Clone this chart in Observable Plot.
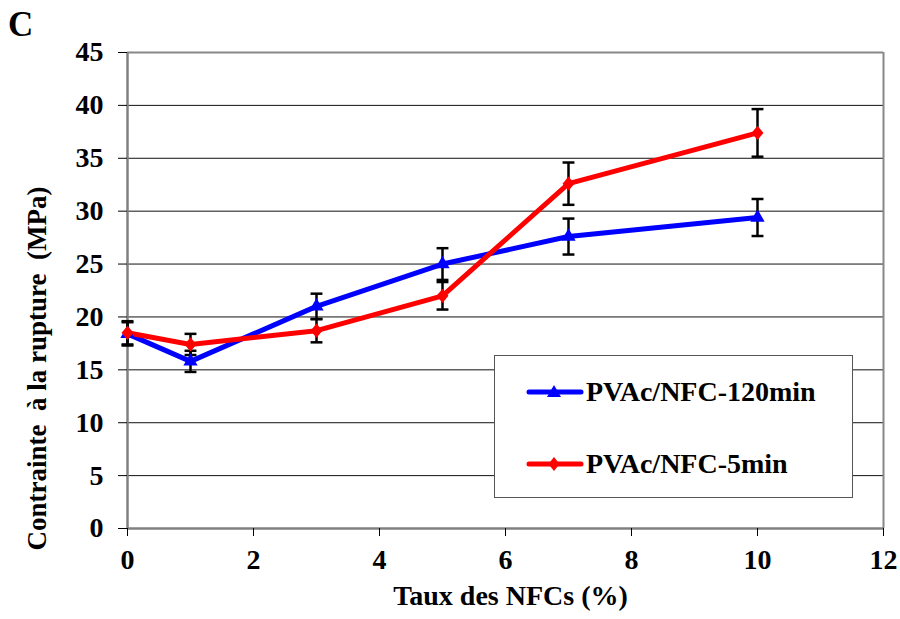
<!DOCTYPE html>
<html>
<head>
<meta charset="utf-8">
<script src="https://cdn.jsdelivr.net/npm/d3@7"></script>
<script src="https://cdn.jsdelivr.net/npm/@observablehq/plot@0.6"></script>
<style>
  html, body { margin: 0; padding: 0; background: #fff; }
  #wrap { position: relative; width: 900px; height: 619px; font-family: "Liberation Serif", "Times New Roman", serif; font-weight: bold; }
  #panel { position: absolute; left: 8px; top: 7px; font-size: 35px; line-height: 1; font-weight: bold; }
  #legend { position: absolute; left: 494px; top: 355px; width: 357px; height: 141px; border: 1.5px solid #555; background: #fff; }
  #legend svg { position: absolute; left: 0; top: 0; }
</style>
</head>
<body>
<div id="wrap">
  <div id="chart"></div>
  <div id="panel">C</div>
  <div id="legend"></div>
</div>
<script>
const xValues = [0, 1, 3, 5, 7, 10];
const y120 = [18.4, 15.8, 21.0, 25.0, 27.6, 29.4];
const err120 = [1.1, 1.0, 1.2, 1.5, 1.7, 1.75];
const y5 = [18.5, 17.4, 18.7, 22.0, 32.6, 37.4];
const err5 = [1.1, 1.0, 1.1, 1.3, 2.0, 2.25];
const seriesNames = ["PVAc/NFC-120min", "PVAc/NFC-5min"];
const seriesColors = ["#0000ff", "#ff0000"];
const xTicks = [0, 2, 4, 6, 8, 10, 12];
const yTicks = [0, 5, 10, 15, 20, 25, 30, 35, 40, 45];
const xLabel = "Taux des NFCs (%)";
const yLabel = "Contrainte\u00a0 à la rupture\u00a0 (MPa)";

const data = [];
xValues.forEach((x, i) => {
  data.push({series: seriesNames[0], x, y: y120[i], e: err120[i]});
});
xValues.forEach((x, i) => {
  data.push({series: seriesNames[1], x, y: y5[i], e: err5[i]});
});
const d120 = data.filter(d => d.series === seriesNames[0]);
const d5 = data.filter(d => d.series === seriesNames[1]);

const capSymbol = {
  draw(ctx, size) {
    const w = Math.sqrt(size / Math.PI) * 1.8;
    ctx.moveTo(-w, 0); ctx.lineTo(w, 0);
  }
};
const diamondSymbol = {
  draw(ctx, size) {
    const s = Math.sqrt(size);
    ctx.moveTo(0, -s * 0.72);
    ctx.lineTo(s * 0.6, 0);
    ctx.lineTo(0, s * 0.72);
    ctx.lineTo(-s * 0.6, 0);
    ctx.closePath();
  }
};

const font = {fontFamily: "Liberation Serif", fontWeight: "bold"};

const chart = Plot.plot({
  width: 900,
  height: 619,
  marginLeft: 127,
  marginRight: 17,
  marginTop: 52,
  marginBottom: 91,
  style: {fontFamily: "Liberation Serif", fontWeight: "bold", background: "#fff", color: "#000"},
  x: {domain: [0, 12]},
  y: {domain: [0, 45]},
  marks: [
    Plot.ruleY(yTicks.slice(1, -1), {stroke: "#111", strokeWidth: 1}),
    Plot.ruleY([yTicks[yTicks.length - 1]], {stroke: "#888", strokeWidth: 2}),
    Plot.ruleX([xTicks[xTicks.length - 1]], {stroke: "#888", strokeWidth: 2}),
    Plot.ruleX([xTicks[0]], {stroke: "#808080", strokeWidth: 2.5}),
    Plot.ruleY([yTicks[0]], {stroke: "#808080", strokeWidth: 2.5}),
    Plot.axisX({ticks: xTicks, tickSize: 8, tickPadding: 13, fontSize: 28, label: null, stroke: "#000", ...font}),
    Plot.axisY({ticks: yTicks, tickSize: 9, tickPadding: 15, fontSize: 28, label: null, stroke: "#000", ...font}),
    Plot.line(d120, {x: "x", y: "y", stroke: seriesColors[0], strokeWidth: 5}),
    Plot.line(d5, {x: "x", y: "y", stroke: seriesColors[1], strokeWidth: 5}),
    Plot.ruleX(data, {x: "x", y1: d => d.y - d.e, y2: d => d.y + d.e, stroke: "#000", strokeWidth: 2.5}),
    Plot.dot(data, {x: "x", y: d => d.y + d.e, symbol: capSymbol, r: 3.3, stroke: "#000", strokeWidth: 2.5, fill: "none"}),
    Plot.dot(data, {x: "x", y: d => d.y - d.e, symbol: capSymbol, r: 3.3, stroke: "#000", strokeWidth: 2.5, fill: "none"}),
    Plot.dot(d120, {x: "x", y: "y", symbol: "triangle", r: 5.3, fill: seriesColors[0], stroke: "none"}),
    Plot.dot(d5, {x: "x", y: "y", symbol: diamondSymbol, r: 5.6, fill: seriesColors[1], stroke: "none"}),
    Plot.text([xLabel], {frameAnchor: "bottom", textAnchor: "middle", dx: 5, dy: 76, text: d => d, fontSize: 28, ...font}),
    Plot.text([yLabel], {frameAnchor: "left", textAnchor: "middle", dx: -90, dy: 78, rotate: -90, text: d => d, fontSize: 27, ...font})
  ]
});
document.getElementById("chart").appendChild(chart);

// legend
const legend = document.getElementById("legend");
const markers = [
  (cx, cy) => `<polygon points="${cx},${cy - 7} ${cx + 7},${cy + 5} ${cx - 7},${cy + 5}" fill="${seriesColors[0]}"/>`,
  (cx, cy) => `<polygon points="${cx},${cy - 7} ${cx + 5.5},${cy} ${cx},${cy + 7} ${cx - 5.5},${cy}" fill="${seriesColors[1]}"/>`
];
const rowY = [36, 108];
let svg = `<svg width="357" height="141" style="font-family:'Liberation Serif',serif;font-weight:bold">`;
seriesNames.forEach((name, i) => {
  const y = rowY[i];
  svg += `<line x1="34" y1="${y}" x2="86" y2="${y}" stroke="${seriesColors[i]}" stroke-width="5" stroke-linecap="round"/>`;
  svg += markers[i](59, y);
  svg += `<text x="91" y="${y + 9}" font-size="28">${name}</text>`;
});
svg += `</svg>`;
legend.innerHTML = svg;
</script>
</body>
</html>
